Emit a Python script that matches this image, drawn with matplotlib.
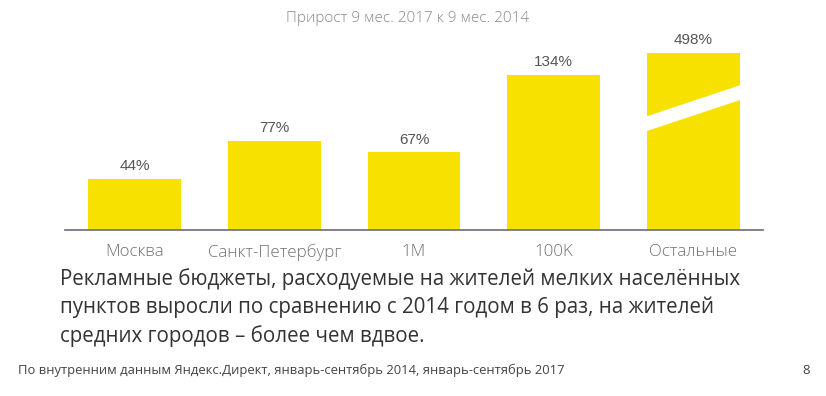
import matplotlib
matplotlib.use("Agg")
import matplotlib.pyplot as plt
from matplotlib.patches import Polygon

categories = ["Москва", "Санкт-Петербург", "1M", "100K", "Остальные"]
values = [44, 77, 67, 134, 498]
value_labels = ["44%", "77%", "67%", "134%", "498%"]
display_cap = 153  # broken bar shown truncated

title = "Прирост 9 мес. 2017 к 9 мес. 2014"
body = ("Рекламные бюджеты, расходуемые на жителей мелких населённых\n"
        "пунктов выросли по сравнению с 2014 годом в 6 раз, на жителей\n"
        "средних городов – более чем вдвое.")
footer = "По внутренним данным Яндекс.Директ, январь-сентябрь 2014, январь-сентябрь 2017"
page = "8"

W, H = 826, 396
fig = plt.figure(figsize=(W / 100, H / 100), dpi=100)
fig.patch.set_facecolor("white")

ax_left, ax_right = 65 / W, 763 / W
ax_bottom = (H - 230) / H
ax_top = (H - 40) / H
ax = fig.add_axes([ax_left, ax_bottom, ax_right - ax_left, ax_top - ax_bottom])
px_per_unit = 1.16
ax.set_ylim(0, (230 - 40) / px_per_unit)
ax.set_xlim(-0.5, len(categories) - 0.5)

yellow = "#F7E100"
bw = 0.665
heights = [min(v, display_cap) for v in values]
bars = ax.bar(range(len(categories)), heights, width=bw, color=yellow, zorder=2)

# break stripe on the truncated bar
for i, v in enumerate(values):
    if v > display_cap:
        x0, x1 = i - bw / 2 - 0.02, i + bw / 2 + 0.02
        stripe = Polygon([[x0, 97.2], [x1, 125.5], [x1, 112.7], [x0, 84.5]],
                         closed=True, facecolor="white", edgecolor="none", zorder=3)
        ax.add_patch(stripe)

for i, (h, lab) in enumerate(zip(heights, value_labels)):
    ax.annotate(lab, (i, h), xytext=(0, 4), textcoords="offset points",
                ha="center", va="bottom", fontsize=11, color="#555555",
                family=["Liberation Sans", "DejaVu Sans"])

for s in ["top", "right", "left"]:
    ax.spines[s].set_visible(False)
ax.spines["bottom"].set_color("#6b6b7b")
ax.spines["bottom"].set_linewidth(1.2)
ax.set_yticks([])
ax.set_xticks(range(len(categories)))
ax.set_xticklabels(categories, fontsize=12.2, color="#707070",
                   family=["Open Sans", "DejaVu Sans"], fontweight="light")
ax.tick_params(axis="x", length=0, pad=10)

fig.text(408 / W, 1 - 19 / H, title, ha="center", va="center", fontsize=11,
         color="#8a8a8a", family=["Open Sans", "DejaVu Sans"], fontweight="light")
fig.text(60 / W, 1 - 268 / H, body, ha="left", va="top", fontsize=14.8,
         color="#333333", family=["Open Sans", "DejaVu Sans"], linespacing=1.40)
fig.text(18 / W, 1 - 370 / H, footer, ha="left", va="center", fontsize=9.35,
         color="#444444", family=["Open Sans", "DejaVu Sans"])
fig.text(806 / W, 1 - 370 / H, page, ha="center", va="center", fontsize=9.5,
         color="#444444", family=["Open Sans", "DejaVu Sans"])

fig.savefig("out.png", dpi=100, facecolor="white")
